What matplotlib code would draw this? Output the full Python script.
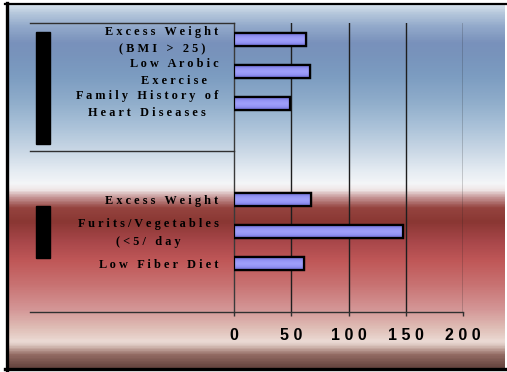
import matplotlib
matplotlib.use("Agg")
import matplotlib.pyplot as plt
import numpy as np
from matplotlib.colors import LinearSegmentedColormap
from matplotlib.patches import Rectangle
from matplotlib.lines import Line2D
from matplotlib.transforms import blended_transform_factory

# ---- data -------------------------------------------------------------
group_a_labels = ["Excess Weight\n(BMI > 25)", "Low Arobic\nExercise",
                  "Family History of\nHeart Diseases"]
group_a_values = [63, 66, 49]
group_b_labels = ["Excess Weight", "Furits/Vegetables\n(<5/ day", "Low Fiber Diet"]
group_b_values = [67, 147, 61]
x_ticks = [0, 50, 100, 150, 200]

# ---- canvas -------------------------------------------------------------
W, H, DPI = 507, 372, 100
fig = plt.figure(figsize=(W / DPI, H / DPI), dpi=DPI, facecolor="white")


def fx(px):
    return px / W


def fy(py):
    return 1 - py / H


# vertical background gradient: steel blue on top, deep red below
stops = [
    (5, "#d2dfea"), (12, "#b6c8dc"), (25, "#93aacb"), (42, "#7991bb"),
    (55, "#7894bc"), (75, "#7c9cc1"), (100, "#8eacca"), (125, "#a9c1d8"),
    (150, "#c9d7e5"), (170, "#e4ebf2"), (184, "#f5f6f8"), (190, "#eee4e4"),
    (198, "#c39292"), (208, "#95443f"), (222, "#8a3733"), (242, "#a8474a"),
    (262, "#c05858"), (285, "#c87272"), (310, "#d49696"), (330, "#e0c0b8"),
    (343, "#ecdcd6"), (349, "#c8aca4"), (356, "#926a62"), (368, "#684640"),
]
top_px, bot_px = stops[0][0], stops[-1][0]
cmap = LinearSegmentedColormap.from_list(
    "bg", [((p - top_px) / (bot_px - top_px), c) for p, c in stops])
bg = fig.add_axes([0, 0, 1, 1], zorder=0)
bg.set_axis_off()
grad = np.linspace(0, 1, 400).reshape(-1, 1)
bg.imshow(grad, cmap=cmap, aspect="auto", extent=(8, 505, bot_px, top_px),
          interpolation="bilinear")
bg.set_xlim(0, W)
bg.set_ylim(H, 0)

# frame around the slide
frame_kw = dict(transform=fig.transFigure, color="black", zorder=5)
fig.add_artist(Line2D([fx(6.5), fx(6.5)], [fy(3), fy(370)], lw=2.4, **frame_kw))
fig.add_artist(Line2D([fx(5), fx(507)], [fy(4), fy(4)], lw=1.6, **frame_kw))
fig.add_artist(Line2D([fx(5), fx(507)], [fy(369), fy(369)], lw=2.4, **frame_kw))

# ---- chart ---------------------------------------------------------------
x0_px, x200_px, ytop_px, ybot_px = 234, 463.3, 23.3, 311.7
ax = fig.add_axes([fx(x0_px), fy(ybot_px), fx(x200_px - x0_px),
                   (ybot_px - ytop_px) / H], zorder=2)
ax.patch.set_visible(False)

# row layout: group A fills rows 0-2, rows 3-4 are padding, group B rows 5-7
rows_a = np.arange(len(group_a_values))
rows_b = np.arange(len(group_b_values)) + 5
n_rows = 9
ax.set_xlim(x_ticks[0], x_ticks[-1])
ax.set_ylim(n_rows - 0.5, -0.5)

for xv in x_ticks[1:]:
    ax.axvline(xv, color="#1e1e1e", lw=1.0, zorder=1)

bar_kw = dict(height=0.4, color="#9090f0", edgecolor="black", linewidth=1.6, zorder=3)
bars = list(ax.barh(rows_a, group_a_values, **bar_kw))
bars += list(ax.barh(rows_b, group_b_values, **bar_kw))

# soft cylindrical shading inside each bar
shade = LinearSegmentedColormap.from_list(
    "shade", ["#6c6cd4", "#9494f4", "#a0a0fa", "#9494f4", "#6c6cd4"])
for b in bars:
    x, y = b.get_x(), b.get_y()
    w, h = b.get_width(), b.get_height()
    im = ax.imshow(np.linspace(0, 1, 32).reshape(-1, 1), cmap=shade,
                   aspect="auto", extent=(x, x + w, y + h, y),
                   interpolation="bilinear", zorder=3.5)
    im.set_clip_path(b)
    edge = Rectangle((x, y), w, h, fill=False, edgecolor="black",
                     linewidth=1.6, zorder=3.6)
    ax.add_patch(edge)
ax.set_xlim(x_ticks[0], x_ticks[-1])
ax.set_ylim(n_rows - 0.5, -0.5)

for side in ("top", "right", "bottom"):
    ax.spines[side].set_visible(False)
ax.spines["left"].set_color("#3a3a3a")
ax.spines["left"].set_linewidth(1.0)
ax.set_yticks([])


def spaced(text):
    # widen the character spacing, line by line
    return "\n".join(" ".join(line) for line in text.split("\n"))


ax.set_xticks(x_ticks)
ax.set_xticklabels([spaced(str(t)) for t in x_ticks],
                   fontfamily="Liberation Sans", fontweight="bold", fontsize=11.5)
ax.tick_params(axis="x", direction="out", length=3, width=1, color="#303030",
               pad=8.5)

# category labels and the group frame lines to the left of the bars
bt = blended_transform_factory(fig.transFigure, ax.transData)
label_kw = dict(transform=bt, ha="right", va="center", multialignment="center",
                fontfamily="Liberation Serif", fontweight="bold", fontsize=8.8,
                linespacing=1.6, color="black", zorder=4)
for r, lab in zip(rows_a, group_a_labels):
    fig.text(fx(218.5), r + 0.04, spaced(lab), **label_kw)
for r, lab in zip(rows_b, group_b_labels):
    fig.text(fx(218.5), r + 0.04, spaced(lab), **label_kw)

line_kw = dict(transform=bt, color="#303030", lw=1.0, zorder=3)
fig.add_artist(Line2D([fx(30), fx(x0_px)], [-0.5, -0.5], **line_kw))
fig.add_artist(Line2D([fx(30), fx(x0_px)], [3.5, 3.5], **line_kw))
fig.add_artist(Line2D([fx(30), fx(x200_px)], [n_rows - 0.5, n_rows - 0.5], **line_kw))

# group marker blocks
fig.add_artist(Rectangle((fx(36), fy(144)), fx(14), 112 / H,
                         transform=fig.transFigure, color="black", zorder=4))
fig.add_artist(Rectangle((fx(36), fy(257.7)), fx(14), 51.7 / H,
                         transform=fig.transFigure, color="black", zorder=4))

fig.savefig("out.png", dpi=DPI, facecolor=fig.get_facecolor())
